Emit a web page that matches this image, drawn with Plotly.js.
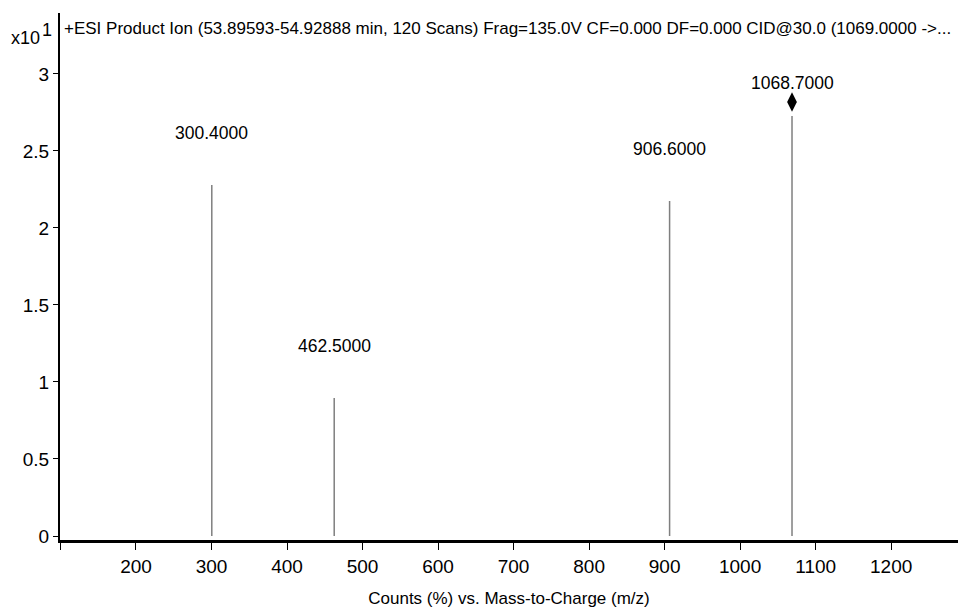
<!DOCTYPE html>
<html>
<head>
<meta charset="utf-8">
<script src="https://cdn.plot.ly/plotly-3.0.1.min.js"></script>
<style>
html,body{margin:0;padding:0;background:#fff;}
#chart{width:958px;height:616px;}
</style>
</head>
<body>
<div id="chart"></div>
<script>
// Data (counts x10^1)
const peakMz = [300.4, 462.5, 906.6, 1068.7];
const peakCounts = [2.279, 0.896, 2.175, 2.727];
const peakLabels = ["300.4000", "462.5000", "906.6000", "1068.7000"];
const precursorMz = [1068.7];
const precursorMarkerY = [2.818];
const xTickVals = [100, 200, 300, 400, 500, 600, 700, 800, 900, 1000, 1100, 1200];
const xTickText = ["", "200", "300", "400", "500", "600", "700", "800", "900", "1000", "1100", "1200"];
const yTickVals = [0, 0.5, 1, 1.5, 2, 2.5, 3];
const yTickText = ["0", "0.5", "1", "1.5", "2", "2.5", "3"];
const titleText = "+ESI Product Ion (53.89593-54.92888 min, 120 Scans) Frag=135.0V CF=0.000 DF=0.000 CID@30.0 (1069.0000 ->...";

const FONT = "'Liberation Sans Narrow', 'Arial Narrow', 'Liberation Sans', Arial, sans-serif";
const FS = 18;

const segX = [], segY = [];
peakMz.forEach((m, i) => { segX.push(m, m, null); segY.push(0, peakCounts[i], null); });

const traces = [
  {x: segX, y: segY, type: 'scatter', mode: 'lines', line: {color: '#7f7f7f', width: 1.5}, hoverinfo: 'skip', showlegend: false},
  {x: precursorMz, y: precursorMarkerY, type: 'scatter', mode: 'markers',
   marker: {symbol: 'diamond-tall', size: 14, color: '#000'}, showlegend: false}
];

const annotations = peakMz.map((m, i) => {
  const isPrec = m === precursorMz[0];
  return {
    x: m, y: isPrec ? precursorMarkerY[0] : peakCounts[i], xref: 'x', yref: 'y',
    text: peakLabels[i], showarrow: false, yanchor: 'bottom',
    yshift: isPrec ? 7 : 40,
    font: {family: FONT, size: 17.5, color: '#000'}
  };
});
annotations.push({xref: 'paper', yref: 'paper', x: -0.020, y: 1, xanchor: 'right', yanchor: 'middle',
  text: 'x10', showarrow: false, font: {family: FONT, size: FS, color: '#000'}, yshift: -25});
annotations.push({xref: 'paper', yref: 'paper', x: -0.0067, y: 1, xanchor: 'right', yanchor: 'middle',
  text: '1', showarrow: false, font: {family: FONT, size: FS, color: '#000'}, yshift: -17});

const layout = {
  width: 958, height: 616,
  margin: {l: 60, r: 0, t: 13, b: 76},
  paper_bgcolor: '#fff', plot_bgcolor: '#fff',
  font: {family: FONT, size: FS, color: '#000'},
  title: {text: titleText, xref: 'container', yref: 'container', x: 64/958, xanchor: 'left',
          y: 1 - 28/616, yanchor: 'middle', font: {family: FONT, size: 17, color: '#000'}},
  xaxis: {range: [99.4, 1288.5], tickmode: 'array', tickvals: xTickVals, ticktext: xTickText,
          ticks: 'outside', ticklen: 7, tickwidth: 1, tickcolor: '#000',
          showline: true, linecolor: '#000', linewidth: 3, showgrid: false, zeroline: false,
          tickfont: {family: FONT, size: 19, color: '#000'},
          title: {text: 'Counts (%) vs. Mass-to-Charge (m/z)', standoff: 17, font: {family: FONT, size: 17, color: '#000'}}},
  yaxis: {range: [-0.026, 3.396], tickmode: 'array', tickvals: yTickVals, ticktext: yTickText,
          ticks: 'outside', ticklen: 5, tickwidth: 1, tickcolor: '#000',
          showline: true, linecolor: '#000', linewidth: 2, showgrid: false, zeroline: false,
          tickfont: {family: FONT, size: 19, color: '#000'}},
  annotations: annotations
};

Plotly.newPlot('chart', traces, layout, {displayModeBar: false, staticPlot: true});
</script>
</body>
</html>
